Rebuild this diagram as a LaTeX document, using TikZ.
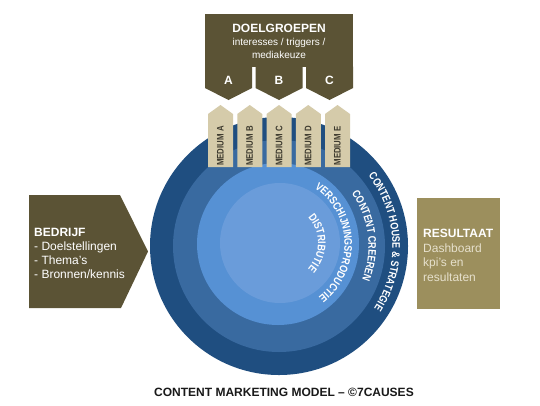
\documentclass[tikz,border=0pt]{standalone}
\usepackage{fontspec}
\setmainfont{Liberation Sans}
\newfontfamily\ringsmal[FakeStretch=0.82]{Liberation Sans}

\definecolor{doelbruin}{HTML}{5B5335}
\definecolor{resultkhaki}{HTML}{9C8F5D}
\definecolor{mediumbeige}{HTML}{D5CBAA}
\definecolor{mediumtekst}{HTML}{3D3A2E}
\definecolor{ringeen}{HTML}{1F4E80}
\definecolor{ringtwee}{HTML}{396AA0}
\definecolor{ringdrie}{HTML}{5691D4}
\definecolor{ringvier}{HTML}{6A9CDA}

\newcommand\ringfont{\fontsize{11}{11}\selectfont\ringsmal\bfseries}
\newcommand\ringscale{0.00902}
% #1 centre, #2 radius, #3 middle angle, #4 letter/width list
\newcommand\ringletters[4]{%
  \xdef\ringtot{0}%
  \foreach \ringch/\w in {#4} {%
    \pgfmathsetmacro\ringsum{\ringtot+\w*\ringscale}%
    \xdef\ringtot{\ringsum}%
  }%
  \pgfmathsetmacro\ringstart{#3+deg(\ringtot/#2)/2}%
  \xdef\ringcur{\ringstart}%
  \foreach \ringch/\w in {#4} {%
    \pgfmathsetmacro\ringmid{\ringcur-deg(\w*\ringscale/#2)/2}%
    \node[text=white, font=\ringfont, inner sep=0pt, anchor=base, rotate=\ringmid-90]
      at ([shift={(\ringmid:#2)}]#1) {\ringch};
    \pgfmathsetmacro\ringnext{\ringcur-deg(\w*\ringscale/#2)}%
    \xdef\ringcur{\ringnext}%
  }%
}

\tikzset{
  boxtext/.style={anchor=north west, inner sep=0pt, align=left,
    font=\fontsize{12}{14}\selectfont},
}

\begin{document}
\begin{tikzpicture}[x=1pt,y=1pt]
\useasboundingbox[fill=white] (0,0) rectangle (540,-405);

\coordinate (ctr) at (279,-246);
\coordinate (ctrdrie) at (278,-244);
\coordinate (ctrvier) at (280,-243);

\fill[ringeen] (ctr) circle[radius=129];
\fill[ringtwee] (ctr) circle[radius=106];
\fill[ringdrie] (ctrdrie) circle[radius=81];
\fill[ringvier] (ctrvier) circle[radius=60];

\ringletters{ctr}{113.5}{2.5}{C/722,O/778,N/722,T/611,E/667,N/722,T/611,~/278,H/722,O/778,U/722,S/667,E/667,~/278,\&/722,~/278,S/667,T/611,R/722,A/722,T/611,E/667,G/778,I/278,E/667}
\ringletters{ctr}{89.5}{7}{C/722,O/778,N/722,T/611,E/667,N/722,T/611,~/278,C/722,R/722,E/667,E/667,R/722,E/667,N/722}
\ringletters{ctrdrie}{66.5}{2}{V/667,E/667,R/722,S/667,C/722,H/722,I/278,J/556,N/722,I/278,N/722,G/778,S/667,P/667,R/722,O/778,D/722,U/722,C/722,T/611,I/278,E/667}
\ringletters{ctrvier}{38}{0}{D/722,I/278,S/667,T/611,R/722,I/278,B/722,U/722,T/611,I/278,E/667}

\fill[doelbruin] (205,-14) rectangle (353,-67);
\draw (279,-24) node[anchor=north, inner sep=0pt, align=center, text=white,
  font=\fontsize{10}{13}\selectfont] (doel)
  {{\fontsize{12}{13}\selectfont\bfseries DOELGROEPEN}\\ interesses / triggers /\\ mediakeuze};
\foreach \x/\l in {228.5/A, 279/B, 329.5/C} {
  \fill[doelbruin] (\x-23.5,-66.5) -- (\x+23.5,-66.5) -- (\x+23.5,-88) -- (\x,-100) -- (\x-23.5,-88) -- cycle;
  \draw (\x,-80) node[text=white, font=\fontsize{12}{12}\selectfont\bfseries] (groep\l) {\l};
}

\foreach \i/\l in {-2/A, -1/B, 0/C, 1/D, 2/E} {
  \fill[mediumbeige] (279+29.25*\i-12.5,-167) -- (279+29.25*\i-12.5,-114) -- (279+29.25*\i,-105)
    -- (279+29.25*\i+12.5,-114) -- (279+29.25*\i+12.5,-167) -- cycle;
  \draw (279+29.25*\i,-146) node[rotate=90, text=mediumtekst,
    font=\fontsize{9.5}{9.5}\selectfont\ringsmal\bfseries] (medium\l) {MEDIUM \l};
}

\fill[doelbruin] (29,-195) -- (120,-195) -- (148,-251.5) -- (121,-308) -- (29,-308) -- cycle;
\draw (34,-228) node[boxtext, text=white] (bedrijf)
  {\textbf{BEDRIJF}\\- Doelstellingen\\- Thema's\\- Bronnen/kennis};

\fill[resultkhaki] (417,-198) rectangle (500,-309);
\draw (423,-229) node[boxtext, text=white, font=\fontsize{12}{14.5}\selectfont] (resultaat)
  {\textbf{RESULTAAT}\\\color{mediumbeige!60!white}Dashboard\\\color{mediumbeige!60!white}kpi's en\\\color{mediumbeige!60!white}resultaten};

\draw (284,-392) node[text=black!90, font=\fontsize{12}{12}\selectfont\bfseries] (titel)
  {CONTENT MARKETING MODEL – ©7CAUSES};
\end{tikzpicture}
\end{document}
